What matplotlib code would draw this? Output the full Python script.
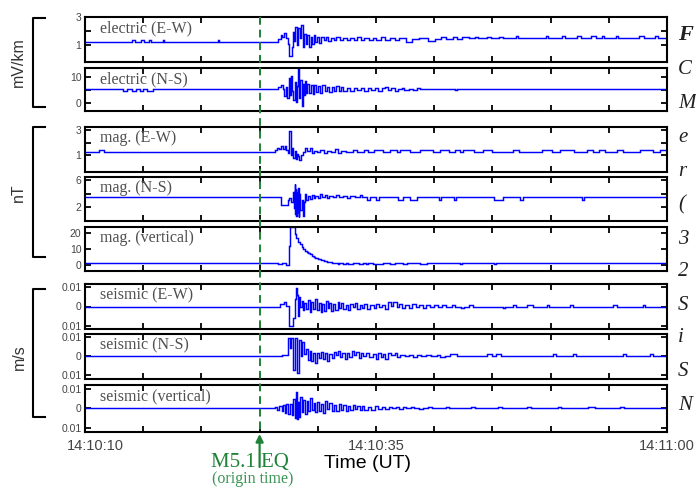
import matplotlib
matplotlib.use("Agg")
import matplotlib.pyplot as plt
import matplotlib.transforms as mtransforms
from matplotlib.lines import Line2D

# ---------------- data (seconds after 14:10:00, value) ----------------
elec_ew = [
    (10, 1.25), (14.0, 1.4), (14.3, 1.25), (14.8, 1.4), (15.1, 1.25), (15.5, 1.35), (15.7, 1.25),
    (16.7, 1.35), (16.8, 1.25), (21.4, 1.35), (21.5, 1.25),
    (26.6, 1.45), (26.8, 1.7), (26.95, 1.55), (27.1, 1.85), (27.25, 1.5), (27.4, 1.1), (27.55, 0.2),
    (27.75, 0.9), (27.85, 1.9), (27.95, 1.3), (28.05, 2.3), (28.2, 1.0), (28.3, 2.2), (28.45, 1.5),
    (28.55, 2.45), (28.7, 0.9), (28.85, 1.8), (29.0, 1.1), (29.1, 1.7), (29.25, 0.85), (29.4, 1.6),
    (29.5, 1.05), (29.65, 1.75), (29.8, 1.2), (29.95, 1.55), (30.1, 1.15), (30.3, 1.6), (30.5, 1.35),
    (30.7, 1.55), (30.9, 1.3), (31.1, 1.5), (31.4, 1.35), (31.6, 1.55), (31.9, 1.4), (32.2, 1.5),
    (32.5, 1.35), (32.8, 1.5), (33.1, 1.4), (33.4, 1.55), (33.7, 1.4), (34.0, 1.5), (34.4, 1.35),
    (34.7, 1.5), (35.0, 1.4), (35.4, 1.55), (35.8, 1.4), (36.2, 1.5), (36.6, 1.4), (37.0, 1.5),
    (37.6, 1.25), (38.1, 1.45), (38.7, 1.5), (39.5, 1.3), (40.1, 1.45), (40.6, 1.55), (41.0, 1.45),
    (41.6, 1.55), (42.0, 1.45), (42.4, 1.55), (43.0, 1.5), (43.5, 1.6), (43.8, 1.5), (44.5, 1.6),
    (44.9, 1.5), (45.6, 1.6), (45.9, 1.5), (47.0, 1.65), (47.2, 1.5), (49.6, 1.65), (49.8, 1.5),
    (51.0, 1.65), (51.2, 1.5), (52.3, 1.65), (52.6, 1.5), (53.5, 1.65), (53.9, 1.5), (54.4, 1.65),
    (54.6, 1.5), (55.6, 1.65), (55.8, 1.5), (57.6, 1.65), (58.0, 1.5), (59.0, 1.65), (59.2, 1.5), (60, 1.5)]

elec_ns = [
    (10, 5.2), (13.3, 4.7), (13.6, 5.2), (14.0, 4.7), (14.4, 5.2), (14.7, 4.7), (15.0, 5.2),
    (15.3, 4.7), (15.8, 5.2),
    (26.6, 6.0), (26.8, 6.8), (27.0, 5.5), (27.1, 2.5), (27.25, 6.0), (27.35, 1.8), (27.5, 9.5),
    (27.6, 3.0), (27.7, 10.3), (27.8, 4.5), (27.9, 1.0), (28.0, 8.0), (28.1, 0.3), (28.2, 6.5),
    (28.3, 13.2), (28.4, 2.0), (28.5, 9.0), (28.6, -1.0), (28.7, 7.5), (28.8, 3.0), (28.9, 8.5),
    (29.0, 3.8), (29.1, 7.2), (29.25, 4.0), (29.4, 6.8), (29.55, 3.5), (29.7, 7.0), (29.85, 4.2),
    (30.0, 6.5), (30.2, 4.0), (30.4, 7.0), (30.6, 4.6), (30.8, 6.2), (31.0, 4.2), (31.2, 6.0),
    (31.4, 4.8), (31.6, 6.4), (31.8, 4.5), (32.0, 6.0), (32.2, 4.8), (32.5, 5.9), (32.8, 4.6),
    (33.1, 5.8), (33.4, 4.9), (33.7, 5.6), (34.0, 4.8), (34.3, 5.7), (34.6, 5.0), (34.9, 5.8),
    (35.2, 4.6), (35.5, 5.6), (35.8, 6.2), (36.0, 5.0), (36.3, 5.6), (36.6, 4.8), (36.9, 5.5),
    (37.2, 5.9), (37.4, 4.9), (37.8, 5.4), (38.2, 4.9), (38.5, 5.6), (38.8, 5.2), (39.5, 5.5),
    (40.0, 5.2), (40.6, 5.5), (41.2, 5.2), (41.8, 5.0), (42.0, 5.2), (42.8, 5.5), (43.4, 5.2),
    (44.0, 5.5), (44.4, 5.2), (45.0, 5.5), (45.3, 5.2), (46.0, 5.5), (46.2, 5.2), (47.2, 5.5),
    (47.4, 5.2), (48.4, 5.5), (48.6, 5.2), (50.6, 5.5), (50.8, 5.2), (52.3, 5.5), (52.5, 5.2),
    (55.2, 5.5), (55.4, 5.2), (56.6, 5.5), (56.8, 5.2), (57.6, 5.5), (57.8, 5.2), (60, 5.2)]

mag_ew = [
    (10, 1.25), (11.2, 1.4), (11.6, 1.25),
    (26.3, 1.4), (26.5, 1.6), (26.7, 1.45), (26.85, 1.7), (27.0, 1.5), (27.15, 1.75), (27.3, 1.4),
    (27.45, 1.2), (27.55, 2.95), (27.7, 1.0), (27.8, 1.6), (27.9, 0.8), (28.0, 1.3), (28.1, 0.7),
    (28.2, 1.1), (28.3, 0.9), (28.4, 0.6), (28.55, 1.0), (28.7, 1.25), (28.9, 1.55), (29.1, 1.35),
    (29.3, 1.6), (29.5, 1.2), (29.7, 1.35), (29.9, 1.25), (30.2, 1.4), (30.5, 1.2), (30.8, 1.35),
    (31.1, 1.25), (31.5, 1.45), (31.7, 1.2), (32.0, 1.35), (32.4, 1.25), (33.0, 1.4), (33.4, 1.25),
    (34.0, 1.4), (34.3, 1.25), (34.8, 1.4), (35.6, 1.25), (36.2, 1.4), (36.8, 1.25), (37.1, 1.4),
    (37.9, 1.25), (38.8, 1.4), (39.9, 1.25), (40.5, 1.4), (41.3, 1.25), (41.8, 1.4), (42.2, 1.25),
    (42.5, 1.4), (43.4, 1.25), (44.2, 1.4), (45.0, 1.25), (46.8, 1.4), (47.3, 1.25), (49.3, 1.4),
    (50.1, 1.25), (50.8, 1.4), (52.0, 1.25), (53.1, 1.4), (53.6, 1.25), (54.2, 1.4), (54.7, 1.25),
    (55.7, 1.4), (56.2, 1.25), (57.7, 1.4), (58.8, 1.25), (59.4, 1.4), (60, 1.4)]

mag_ns = [
    (10, 3.5), (26.8, 2.3), (27.4, 3.0), (27.55, 3.3), (27.7, 2.8), (27.85, 4.2), (27.95, 1.8),
    (28.0, 5.4), (28.05, 1.0), (28.1, 4.6), (28.15, 0.6), (28.2, 4.3), (28.25, 1.2), (28.3, 4.8),
    (28.35, 0.5), (28.42, 3.9), (28.5, 1.5), (28.6, 3.0), (28.7, 0.6), (28.8, 2.8), (28.9, 3.9),
    (29.0, 3.1), (29.15, 3.7), (29.3, 3.2), (29.5, 3.8), (29.65, 3.3), (29.8, 3.7), (30.0, 3.4),
    (30.2, 3.9), (30.4, 3.5), (30.6, 3.8), (30.8, 3.4), (31.0, 3.7), (31.3, 3.5), (31.6, 3.8),
    (31.8, 3.5), (32.2, 3.7), (32.5, 3.4), (32.8, 3.6), (33.2, 3.5), (33.6, 3.8), (33.8, 3.5),
    (34.2, 3.1), (34.5, 3.5), (35.0, 3.1), (35.3, 3.5), (36.9, 3.1), (37.3, 3.5), (37.9, 3.1),
    (38.5, 3.5), (40.4, 3.1), (40.6, 3.5), (41.7, 3.1), (41.9, 3.5), (45.1, 3.1), (45.9, 3.5),
    (47.4, 3.1), (47.6, 3.5), (52.7, 3.1), (52.9, 3.5), (60, 3.5)]

mag_vert = [
    (10, 1.5), (26.6, 0.7), (26.9, 1.5), (27.3, 0.2), (27.55, 12.0), (27.65, 24.0), (28.05, 19.5),
    (28.15, 17.0), (28.3, 14.6), (28.45, 13.0), (28.6, 11.5), (28.75, 10.2), (28.9, 8.8),
    (29.05, 8.0), (29.2, 7.4), (29.35, 6.6), (29.5, 5.8), (29.65, 5.2), (29.8, 4.6), (30.0, 3.9),
    (30.25, 3.2), (30.5, 2.5), (30.8, 2.0), (31.2, 1.5), (31.7, 0.5), (31.8, 1.5), (32.2, 0.5),
    (32.4, 1.5), (32.6, 0.5), (33.0, 1.5), (33.5, 0.5), (33.9, 1.5), (34.1, 0.5), (34.3, 1.5),
    (34.7, 0.5), (35.6, 1.5), (36.2, 0.5), (36.6, 1.5), (37.3, 0.5), (37.7, 1.5), (38.8, 0.5),
    (39.4, 1.5), (42.2, 0.5), (42.4, 1.5), (45.1, 0.5), (45.3, 1.5), (60, 1.5)]

seis_ew = [
    (10, 0.0), (26.75, 0.0015), (27.1, 0.0022), (27.3, 0.0005), (27.5, -0.0102), (27.9, -0.006),
    (28.0, 0.004), (28.1, 0.0095), (28.2, 0.006), (28.3, -0.005), (28.4, 0.005), (28.5, 0.0),
    (28.6, 0.003), (28.7, -0.002), (28.85, 0.002), (29.0, -0.0015), (29.15, 0.0035), (29.3, -0.003),
    (29.45, 0.0025), (29.6, -0.0015), (29.8, 0.004), (29.95, -0.002), (30.1, 0.002), (30.25, -0.003),
    (30.4, 0.0015), (30.55, -0.0025), (30.7, 0.003), (30.85, -0.001), (31.0, 0.002), (31.15, -0.0025),
    (31.3, 0.0015), (31.5, -0.002), (31.7, 0.0025), (31.85, -0.001), (32.0, 0.002), (32.2, -0.0015),
    (32.4, 0.001), (32.6, -0.002), (32.8, 0.0015), (33.0, -0.0005), (33.2, 0.002), (33.4, -0.0015),
    (33.6, 0.001), (33.8, -0.001), (34.0, 0.0015), (34.2, -0.0012), (34.5, 0.001), (34.8, -0.001),
    (35.0, 0.0015), (35.3, -0.0005), (35.5, 0.001), (35.8, -0.0012), (36.0, 0.0025), (36.3, 0.0005),
    (36.5, 0.0025), (36.8, -0.0005), (37.0, 0.0015), (37.2, -0.001), (37.5, 0.001), (37.8, -0.0008),
    (38.1, 0.0012), (38.4, 0.0), (38.7, 0.001), (39.0, -0.0008), (39.3, 0.0008), (39.6, 0.0),
    (40.0, 0.001), (40.3, -0.0005), (40.7, 0.0008), (41.0, 0.0), (41.5, 0.0008), (41.8, 0.0),
    (42.3, -0.0006), (42.6, 0.0), (43.0, 0.0007), (43.3, 0.0), (45.9, -0.0008), (46.1, 0.0),
    (46.8, 0.0008), (47.0, 0.0), (48.0, 0.0008), (48.5, 0.0), (49.7, 0.0008), (49.9, 0.0),
    (51.7, 0.0008), (51.9, 0.0), (55.4, 0.0008), (55.7, 0.0), (57.9, 0.0008), (58.1, 0.0), (60, 0.0)]

seis_ns = [
    (10, 0.0), (26.9, 0.0007), (27.45, 0.0098), (27.6, 0.0045), (27.7, 0.0098), (27.85, -0.0074),
    (28.05, 0.0098), (28.2, -0.0088), (28.4, 0.0085), (28.55, 0.0), (28.65, 0.0075), (28.85, 0.001),
    (29.0, 0.004), (29.15, -0.002), (29.3, 0.003), (29.45, -0.0025), (29.6, 0.002), (29.75, -0.0035),
    (29.95, 0.0015), (30.1, -0.001), (30.3, 0.0025), (30.45, -0.0015), (30.6, 0.002), (30.8, -0.0025),
    (31.0, 0.001), (31.2, -0.001), (31.4, 0.0025), (31.55, 0.0005), (31.75, 0.003), (31.95, -0.0005),
    (32.1, 0.002), (32.3, -0.0015), (32.5, 0.0015), (32.7, -0.0005), (32.9, 0.003), (33.1, 0.0005),
    (33.3, 0.0025), (33.5, -0.001), (33.7, 0.0015), (33.9, 0.0), (34.1, 0.0015), (34.4, -0.0005),
    (34.7, 0.001), (35.0, -0.0015), (35.2, 0.0015), (35.4, -0.0005), (35.6, 0.001), (35.8, -0.0015),
    (36.0, 0.002), (36.3, 0.0005), (36.6, 0.0015), (36.8, -0.0003), (37.1, 0.0008), (37.5, 0.0),
    (37.8, 0.0008), (38.2, -0.0005), (38.5, 0.0006), (38.9, 0.0), (39.3, 0.0006), (39.7, 0.0),
    (40.2, 0.0006), (40.5, -0.0004), (40.9, 0.0004), (41.4, 0.0012), (42.0, 0.0), (44.5, 0.0012),
    (45.0, 0.0), (45.3, 0.0012), (45.7, 0.0), (50.2, 0.0012), (50.5, 0.0), (51.9, 0.0012),
    (52.2, 0.0), (56.2, 0.0012), (56.5, 0.0), (58.5, 0.0012), (58.8, 0.0), (60, 0.0)]

seis_vert = [
    (10, 0.0), (26.3, 0.0008), (26.5, -0.0008), (26.7, 0.001), (26.9, -0.0012), (27.0, 0.0015),
    (27.15, -0.0025), (27.3, 0.002), (27.45, -0.003), (27.6, 0.002), (27.75, -0.0035), (27.9, 0.0045),
    (28.0, -0.005), (28.1, 0.0085), (28.2, -0.0055), (28.3, 0.003), (28.4, -0.0045), (28.5, 0.0055),
    (28.6, -0.002), (28.75, 0.004), (28.9, -0.003), (29.05, 0.0035), (29.2, -0.0015), (29.35, 0.005),
    (29.5, -0.001), (29.65, 0.0025), (29.8, -0.002), (29.95, 0.003), (30.1, -0.0015), (30.3, 0.002),
    (30.45, -0.0025), (30.6, 0.0035), (30.8, -0.0005), (31.0, 0.0025), (31.2, -0.0015), (31.4, 0.0015),
    (31.6, -0.0015), (31.8, 0.002), (32.0, -0.001), (32.2, 0.0015), (32.4, -0.0015), (32.6, 0.001),
    (32.8, -0.001), (33.0, 0.0015), (33.2, -0.0005), (33.4, 0.001), (33.6, -0.001), (33.8, 0.0012),
    (34.0, -0.0008), (34.3, 0.0008), (34.6, -0.0008), (34.9, 0.001), (35.2, -0.0005), (35.5, 0.0008),
    (35.8, -0.0005), (36.1, 0.0008), (36.4, 0.0), (36.7, 0.0008), (37.0, -0.0005), (37.3, 0.0005),
    (37.6, 0.0), (38.0, 0.0008), (38.3, 0.0), (38.7, -0.0005), (39.0, 0.0), (39.5, 0.0007),
    (39.8, 0.0), (41.0, 0.0006), (41.3, 0.0), (43.2, 0.0006), (43.5, 0.0), (45.5, 0.0006),
    (45.8, 0.0), (48.0, 0.0006), (48.3, 0.0), (50.6, 0.0006), (50.9, 0.0), (53.2, 0.0006),
    (53.8, 0.0), (56.0, 0.0006), (56.3, 0.0), (60, 0.0)]

panel_labels = ["electric (E-W)", "electric (N-S)", "mag. (E-W)", "mag. (N-S)",
                "mag. (vertical)", "seismic (E-W)", "seismic (N-S)", "seismic (vertical)"]
series = [elec_ew, elec_ns, mag_ew, mag_ns, mag_vert, seis_ew, seis_ns, seis_vert]
y_ticks = [[1, 2, 3], [0, 5, 10], [1, 2, 3], [2, 4, 6], [0, 10, 20],
           [-0.01, 0, 0.01], [-0.01, 0, 0.01], [-0.01, 0, 0.01]]
y_ticklabels = [["1", "", "3"], ["0", "", "10"], ["1", "", "3"], ["2", "", "6"],
                ["0", "10", "20"], ["0.01", "0", "0.01"], ["0.01", "0", "0.01"],
                ["0.01", "0", "0.01"]]
y_limits = [(-0.2, 3.0), (-3.1, 13.5), (-0.36, 3.24), (-0.07, 6.45), (-3.75, 23.75),
            (-0.0118, 0.0118), (-0.012, 0.0118), (-0.012, 0.0118)]
x_ticks = [10, 15, 20, 25, 30, 35, 40, 45, 50, 55, 60]
x_ticklabels = ["14:10:10", "", "", "", "", "14:10:35", "", "", "", "", "14:11:00"]
eq_time = 25
group_units = ["mV/km", "nT", "m/s"]
caption_letters = ["F", "C", "M", "e", "r", "(", "3", "2", "S", "i", "S", "N"]

# ---------------- layout ----------------
W, H = 696, 487
fig = plt.figure(figsize=(W / 100, H / 100), dpi=100)
panel_px = [(17, 62), (68, 111), (127, 172), (177, 221), (227, 271),
            (284, 329), (334, 379), (385, 432)]
left_px, right_px = 85, 667
blue = "#0000ff"
green = "#1f8238"
gray = "#444444"

axes = []
for i, (top, bot) in enumerate(panel_px):
    ax = fig.add_axes([left_px / W, 1 - bot / H, (right_px - left_px) / W, (bot - top) / H])
    data = series[i]
    ax.plot([p[0] for p in data], [p[1] for p in data], color=blue, lw=1.05,
            drawstyle="steps-post", solid_joinstyle="miter")
    ax.set_xlim(10, 60)
    ax.set_ylim(*y_limits[i])
    ax.set_yticks(y_ticks[i])
    ax.set_yticklabels(y_ticklabels[i])
    ax.set_xticks(x_ticks)
    ax.tick_params(axis="both", direction="in", length=4.5, width=1.3, top=True, right=True,
                   colors="black", labelcolor=gray)
    ax.tick_params(axis="y", labelsize=7.5, pad=2.5)
    for lab in ax.get_yticklabels():
        lab.set_family("Liberation Sans")
    if i < len(panel_px) - 1:
        ax.tick_params(axis="x", labelbottom=False)
    else:
        ax.set_xticklabels(x_ticklabels)
        ax.tick_params(axis="x", labelsize=10.5, pad=5)
        for lab in ax.get_xticklabels():
            lab.set_family("Liberation Sans")
        first = ax.get_xticklabels()[0]
        first.set_transform(first.get_transform() +
                            mtransforms.ScaledTranslation(0.10, 0, fig.dpi_scale_trans))
    for s in ax.spines.values():
        s.set_linewidth(1.5)
    fig.text(100 / W, 1 - (top + 11.5) / H, panel_labels[i], family="Liberation Serif",
             fontsize=11.5, color="#505050", ha="left", va="center")
    axes.append(ax)

# brackets and unit labels
brackets = [(18, 107, 62, 18), (127, 257, 193, 18), (289, 417, 357, 19)]
for (y0, y1, yc, xc), unit in zip(brackets, group_units):
    xs = [45 / W, 33 / W, 33 / W, 45 / W]
    ys = [1 - y0 / H, 1 - y0 / H, 1 - y1 / H, 1 - y1 / H]
    fig.add_artist(Line2D(xs, ys, transform=fig.transFigure, color="black", lw=1.5))
    fig.text(xc / W, 1 - yc / H, unit, rotation=90, family="Liberation Sans", fontsize=11.5,
             color="#333333", ha="center", va="center")

# earthquake origin line
bottom_ax = axes[-1]
blend = mtransforms.blended_transform_factory(bottom_ax.transData, fig.transFigure)
fig.add_artist(Line2D([eq_time, eq_time], [1 - 17 / H, 1 - 432 / H], transform=blend,
                      color=green, lw=1.4, ls=(0, (4, 2.5))))
bottom_ax.annotate("", xy=(eq_time, 1 - 434 / H), xycoords=blend,
                   xytext=(eq_time, 1 - 467 / H), textcoords=blend,
                   arrowprops=dict(arrowstyle="-|>", color=green, lw=1.6, mutation_scale=11,
                                   shrinkA=0, shrinkB=0),
                   annotation_clip=False)
fig.text(250 / W, 1 - 462 / H, "M5.1 EQ", family="Liberation Serif", fontsize=15,
         color=green, ha="center", va="center")
fig.text(253 / W, 1 - 479 / H, "(origin time)", family="Liberation Serif", fontsize=11.5,
         color="#3c9556", ha="center", va="center")
fig.text(368 / W, 1 - 463 / H, "Time (UT)", family="Liberation Sans", fontsize=14,
         color="black", ha="center", va="center")

# cut-off caption on the right (kept inside the figure)
cap_y = [35, 70, 103, 138, 172, 205, 240, 272, 305, 338, 372, 405]
for k, (ch, yy) in enumerate(zip(caption_letters, cap_y)):
    fig.text(678 / W, 1 - yy / H, ch, family="Liberation Serif", style="italic",
             weight="bold" if k == 0 else "normal", fontsize=16 if k == 0 else 15,
             color="#222222", ha="left", va="center")

fig.savefig("out.png", dpi=100)
